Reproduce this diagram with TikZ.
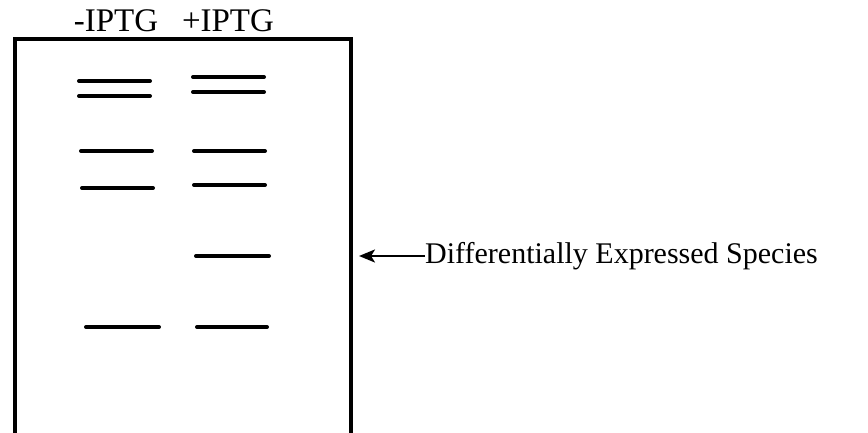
\documentclass[tikz,border=0pt]{standalone}
\usepackage{fontspec}
\setmainfont{Liberation Serif}
\usetikzlibrary{arrows.meta}
\begin{document}
\begin{tikzpicture}[x=1pt,y=-1pt,
  band/.style={line width=4pt,line cap=round},
  gel/.style={line width=3.2pt},
  lanelbl/.style={anchor=base,inner sep=0pt,font=\fontsize{33}{36}\selectfont},
  sidelbl/.style={anchor=west,inner sep=0pt,font=\fontsize{30}{36}\selectfont},
  pointer/.style={line width=2.4pt,-{Stealth[length=16pt,width=13pt,inset=4pt]}}]
\useasboundingbox (0,0) rectangle (868,433);
% gel outline (open at bottom)
\coordinate (bl) at (15,436);
\coordinate (tl) at (15,39);
\coordinate (tr) at (351,39);
\coordinate (br) at (351,436);
\draw[gel] (bl) -- (tl) -- (tr) -- (br);
% lane labels
\node[lanelbl] (minus) at (116,32) {-IPTG};
\node[lanelbl] (plus) at (228,32) {+IPTG};
% lane 1 bands
\coordinate (a1) at (79,81);  \coordinate (b1) at (150,81);
\coordinate (a2) at (79,96);  \coordinate (b2) at (150,96);
\coordinate (a3) at (81,151); \coordinate (b3) at (152,151);
\coordinate (a4) at (82,188); \coordinate (b4) at (153,188);
\coordinate (a5) at (86,327); \coordinate (b5) at (159,327);
\foreach \i in {1,...,5} {\draw[band] (a\i) -- (b\i);}
% lane 2 bands
\coordinate (c1) at (193,77);  \coordinate (d1) at (264,77);
\coordinate (c2) at (193,92);  \coordinate (d2) at (264,92);
\coordinate (c3) at (194,151); \coordinate (d3) at (265,151);
\coordinate (c4) at (194,185); \coordinate (d4) at (265,185);
\coordinate (c5) at (196,256); \coordinate (d5) at (269,256);
\coordinate (c6) at (197,327); \coordinate (d6) at (267,327);
\foreach \i in {1,...,6} {\draw[band] (c\i) -- (d\i);}
% pointer
\node[sidelbl] (species) at (425,256) {Differentially Expressed Species};
\coordinate (tip) at (359,256);
\draw[pointer] (species.west) -- (tip);
\end{tikzpicture}
\end{document}
